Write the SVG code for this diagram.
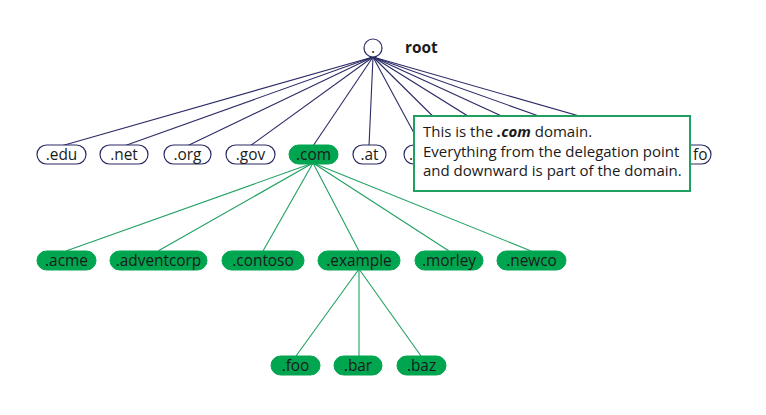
<svg xmlns="http://www.w3.org/2000/svg" width="766" height="415" viewBox="0 0 766 415">
<style>
.t{font-family:"Open Sans","Noto Sans",sans-serif;font-size:15.4px;fill:#1a1a1a}
.b{font-size:15px}
.c{text-anchor:middle}
.w{fill:#fff;stroke:#2b2b66;stroke-width:1.2}
.g{fill:#00a550;stroke:#00a550;stroke-width:1}
.ln{stroke:#2b2b66;stroke-width:1.1;fill:none}
.lg{stroke:#1fa061;stroke-width:1.1;fill:none}
</style>
<rect width="766" height="415" fill="#fff"/>
<g id="connectors">
<g class="ln">
<line x1="373" y1="57" x2="61" y2="146"/>
<line x1="373" y1="57" x2="124" y2="146"/>
<line x1="373" y1="57" x2="187" y2="146"/>
<line x1="373" y1="57" x2="250" y2="146"/>
<line x1="373" y1="57" x2="313" y2="146"/>
<line x1="373" y1="57" x2="369" y2="146"/>
<line x1="373" y1="57" x2="421" y2="146"/>
<line x1="373" y1="57" x2="463" y2="146"/>
<line x1="373" y1="57" x2="516" y2="146"/>
<line x1="373" y1="57" x2="567" y2="146"/>
<line x1="373" y1="57" x2="623" y2="146"/>
<line x1="373" y1="57" x2="684" y2="146"/>
</g>
<g class="lg">
<line x1="313" y1="163" x2="66" y2="251"/>
<line x1="313" y1="163" x2="158" y2="251"/>
<line x1="313" y1="163" x2="263" y2="251"/>
<line x1="313" y1="163" x2="359" y2="251"/>
<line x1="313" y1="163" x2="449" y2="251"/>
<line x1="313" y1="163" x2="531" y2="251"/>
<line x1="359" y1="269" x2="296" y2="356"/>
<line x1="359" y1="269" x2="359" y2="356"/>
<line x1="359" y1="269" x2="421" y2="356"/>
</g>
</g>
<g id="root"><circle cx="373" cy="48" r="9" class="w"/><text x="373" y="53" class="t c">.</text><text x="405" y="53" class="t" font-weight="bold">root</text></g>
<g id="n-edu"><rect x="37" y="145" width="49" height="19" rx="9.5" class="w"/><text x="61.5" y="160" class="t c">.edu</text></g>
<g id="n-net"><rect x="100" y="145" width="48" height="19" rx="9.5" class="w"/><text x="124" y="160" class="t c">.net</text></g>
<g id="n-org"><rect x="164" y="145" width="47" height="19" rx="9.5" class="w"/><text x="187.5" y="160" class="t c">.org</text></g>
<g id="n-gov"><rect x="226" y="145" width="49" height="19" rx="9.5" class="w"/><text x="250.5" y="160" class="t c">.gov</text></g>
<g id="n-com"><rect x="289" y="145" width="49" height="19" rx="9.5" class="g"/><text x="313.5" y="160" class="t c">.com</text></g>
<g id="n-at"><rect x="353" y="145" width="33" height="19" rx="9.5" class="w"/><text x="369.5" y="160" class="t c">.at</text></g>
<g id="n-hidden"><rect x="404" y="145" width="40" height="19" rx="9.5" class="w"/><text x="409" y="160" class="t">.</text></g>
<g id="n-info"><rect x="668" y="145" width="43" height="19" rx="9.5" class="w"/><text x="693" y="160" class="t">fo</text></g>
<g id="callout"><rect x="414" y="116" width="276" height="75" fill="#fff" stroke="#1fa061" stroke-width="2"/>
<text x="423" y="137" class="t b">This is the <tspan font-weight="bold" font-style="italic">.com</tspan> domain.</text>
<text x="423" y="157" class="t b">Everything from the delegation point</text>
<text x="423" y="176" class="t b">and downward is part of the domain.</text></g>
<g id="n-acme"><rect x="37" y="251" width="59" height="19" rx="9.5" class="g"/><text x="66.5" y="266" class="t c">.acme</text></g>
<g id="n-adventcorp"><rect x="110" y="251" width="97" height="19" rx="9.5" class="g"/><text x="158.5" y="266" class="t c">.adventcorp</text></g>
<g id="n-contoso"><rect x="222" y="251" width="82" height="19" rx="9.5" class="g"/><text x="263" y="266" class="t c">.contoso</text></g>
<g id="n-example"><rect x="318" y="251" width="82" height="19" rx="9.5" class="g"/><text x="359" y="266" class="t c">.example</text></g>
<g id="n-morley"><rect x="415" y="251" width="68" height="19" rx="9.5" class="g"/><text x="449" y="266" class="t c">.morley</text></g>
<g id="n-newco"><rect x="497" y="251" width="69" height="19" rx="9.5" class="g"/><text x="531.5" y="266" class="t c">.newco</text></g>
<g id="n-foo"><rect x="271" y="356" width="49" height="19" rx="9.5" class="g"/><text x="295.5" y="371" class="t c">.foo</text></g>
<g id="n-bar"><rect x="334" y="356" width="48" height="19" rx="9.5" class="g"/><text x="358" y="371" class="t c">.bar</text></g>
<g id="n-baz"><rect x="397" y="356" width="49" height="19" rx="9.5" class="g"/><text x="421.5" y="371" class="t c">.baz</text></g>
</svg>
